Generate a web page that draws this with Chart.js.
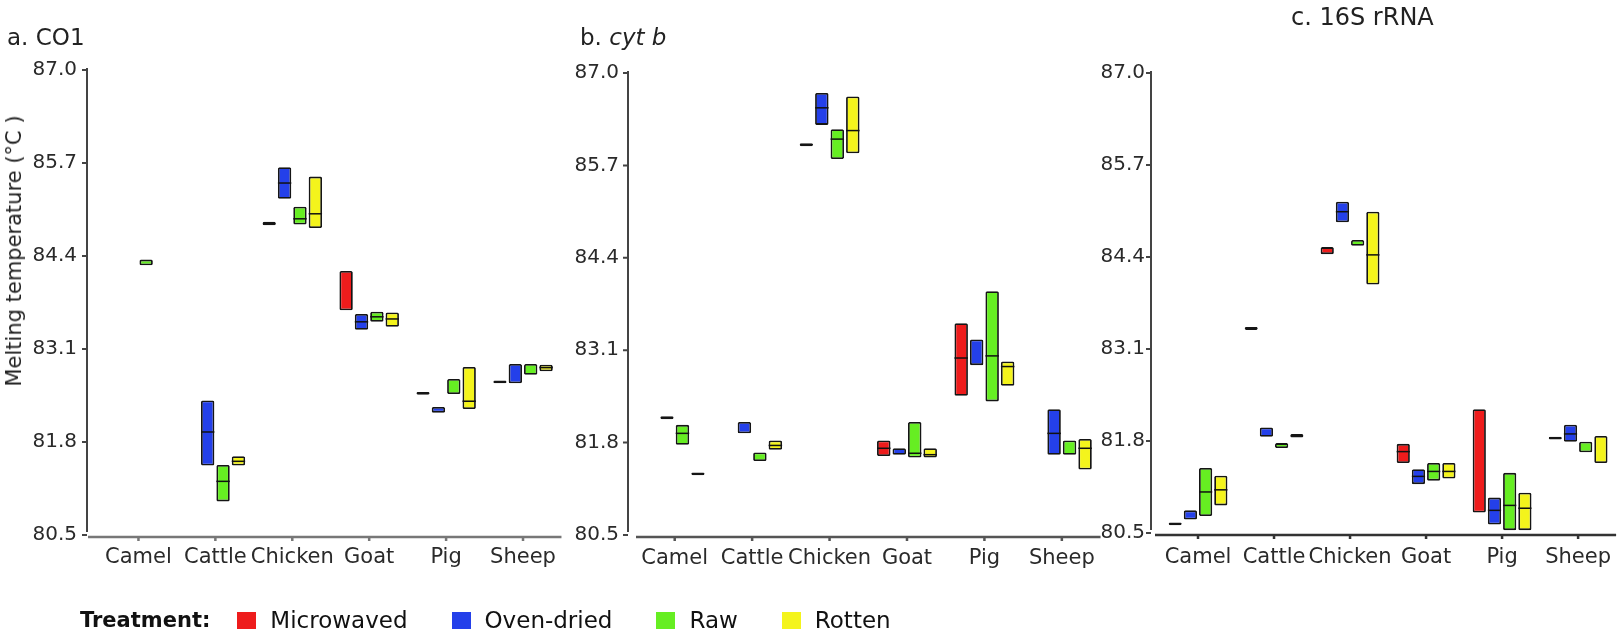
<!DOCTYPE html>
<html>
<head>
<meta charset="utf-8">
<script src="https://cdn.jsdelivr.net/npm/chart.js@4.4.1/dist/chart.umd.min.js"></script>
<style>
  body { margin: 0; background: #fff; }
  #wrap { position: relative; width: 1623px; height: 638px; overflow: hidden; font-family: 'DejaVu Sans', sans-serif; color: #222; }
  canvas { position: absolute; top: 0; }
  .title { position: absolute; font-size: 23px; line-height: 23px; white-space: nowrap; }
  #ylab { position: absolute; left: 14px; top: 251px; font-size: 21px; white-space: nowrap; transform: translate(-50%, -50%) rotate(-90deg); }
  #legend { position: absolute; left: 80px; top: 607px; height: 26px; display: flex; align-items: center; font-size: 23px; color: #111; }
  #legend .head { font-weight: bold; font-size: 21px; margin-right: 27px; }
  #legend .sw { width: 19px; height: 17px; margin-right: 14px; }
  #legend .item { display: flex; align-items: center; margin-right: 44px; }
</style>
</head>
<body>
<div id="wrap">
  <canvas id="co1" width="566" height="638" style="left:0px"></canvas>
  <canvas id="cytb" width="540" height="638" style="left:566px"></canvas>
  <canvas id="rrna" width="533" height="638" style="left:1090px"></canvas>
  <div class="title" style="left:7px; top:26px">a. CO1</div>
  <div class="title" style="left:580px; top:26px">b. <i>cyt b</i></div>
  <div class="title" style="left:1291px; top:6px; font-size:24px">c. 16S rRNA</div>
  <div id="ylab">Melting temperature (°C )</div>
  <div id="legend"><span class="head">Treatment:</span></div>
</div>
<script>
const categories = ["Camel", "Cattle", "Chicken", "Goat", "Pig", "Sheep"];
const treatments = ["Microwaved", "Oven-dried", "Raw", "Rotten"];
const colors = ["#ee1c1c", "#2440ea", "#66ee22", "#f4f41c"];
const yTicks = [80.5, 81.8, 83.1, 84.4, 85.7, 87.0];

// a. CO1 : [low, high] per species, plus median lines
const co1Microwaved = [null, null, [84.83, 84.88], [83.64, 84.19], [82.46, 82.50], [82.62, 82.66]];
const co1MicrowavedMed = [null, null, null, null, null, null];
const co1OvenDried = [null, [81.47, 82.38], [85.20, 85.64], [83.37, 83.59], [82.21, 82.29], [82.62, 82.89]];
const co1OvenDriedMed = [null, 81.94, 85.42, 83.48, null, null];
const co1Raw = [[84.27, 84.35], [80.97, 81.48], [84.84, 85.09], [83.48, 83.62], [82.47, 82.68], [82.74, 82.89]];
const co1RawMed = [null, 81.25, 84.92, 83.55, null, null];
const co1Rotten = [null, [81.47, 81.60], [84.79, 85.51], [83.41, 83.61], [82.26, 82.85], [82.79, 82.88]];
const co1RottenMed = [null, 81.53, 84.99, 83.52, 82.37, 82.84];

// b. cyt b
const cytbMicrowaved = [null, null, [85.97, 86.01], [81.61, 81.83], [82.46, 83.48], null];
const cytbMicrowavedMed = [null, null, null, 81.72, 82.99, null];
const cytbOvenDried = [[82.13, 82.17], [81.93, 82.09], [86.27, 86.72], [81.63, 81.72], [82.89, 83.25], [81.63, 82.27]];
const cytbOvenDriedMed = [null, null, 86.51, null, null, 81.93];
const cytbRaw = [[81.77, 82.05], [81.54, 81.66], [85.79, 86.21], [81.59, 82.09], [82.38, 83.93], [81.63, 81.83]];
const cytbRawMed = [81.93, null, 86.07, 81.65, 83.02, null];
const cytbRotten = [[81.34, 81.38], [81.70, 81.83], [85.87, 86.67], [81.59, 81.72], [82.60, 82.94], [81.42, 81.85]];
const cytbRottenMed = [null, 81.76, 86.19, 81.63, 82.87, 81.72];

// c. 16S rRNA
const rrnaMicrowaved = [[80.61, 80.65], [83.37, 83.41], [84.44, 84.54], [81.49, 81.76], [80.79, 82.25], [81.82, 81.86]];
const rrnaMicrowavedMed = [null, null, null, 81.65, null, null];
const rrnaOvenDried = [[80.69, 80.82], [81.86, 81.99], [84.89, 85.18], [81.19, 81.40], [80.62, 81.00], [81.79, 82.03]];
const rrnaOvenDriedMed = [null, null, 85.04, 81.30, 80.82, 81.90];
const rrnaRaw = [[80.74, 81.42], [81.70, 81.77], [84.56, 84.64], [81.24, 81.49], [80.54, 81.35], [81.64, 81.79]];
const rrnaRawMed = [81.08, null, null, 81.37, 80.89, null];
const rrnaRotten = [[80.89, 81.31], [81.85, 81.90], [84.01, 85.04], [81.27, 81.49], [80.54, 81.07], [81.49, 81.87]];
const rrnaRottenMed = [81.11, null, 84.43, 81.37, 80.85, null];

Chart.defaults.font.family = "'DejaVu Sans', sans-serif";
Chart.defaults.color = "#2a2a2a";

// median line across each box
const medianLines = {
  id: "medianLines",
  afterDatasetsDraw(chart) {
    const ctx = chart.ctx;
    const y = chart.scales.y;
    ctx.save();
    ctx.strokeStyle = "#111";
    ctx.lineWidth = 1.5;
    chart.data.datasets.forEach((ds, i) => {
      const meta = chart.getDatasetMeta(i);
      ds.medians.forEach((m, j) => {
        if (m == null) return;
        const bar = meta.data[j];
        const py = y.getPixelForValue(m);
        ctx.beginPath();
        ctx.moveTo(bar.x - bar.width / 2, py);
        ctx.lineTo(bar.x + bar.width / 2, py);
        ctx.stroke();
      });
    });
    ctx.restore();
  }
};

// axis lines sit a little left of the plot area, like the printed figure
const axisLines = {
  id: "axisLines",
  beforeDatasetsDraw(chart, args, opts) {
    const { ctx, chartArea: a, scales: { x, y } } = chart;
    ctx.save();
    ctx.lineCap = "butt";
    const ax = a.left - opts.gapY;
    ctx.strokeStyle = "#444";
    ctx.lineWidth = 2;
    ctx.beginPath();
    ctx.moveTo(ax, y.getPixelForValue(yTicks[yTicks.length - 1]) - 2);
    ctx.lineTo(ax, y.getPixelForValue(yTicks[0]) - 3);
    yTicks.forEach(v => {
      const py = y.getPixelForValue(v);
      ctx.moveTo(ax - opts.tickY, py);
      ctx.lineTo(ax, py);
    });
    ctx.stroke();

    const by = a.bottom + opts.dropX;
    ctx.strokeStyle = opts.xColor;
    ctx.lineWidth = 2.5;
    ctx.beginPath();
    ctx.moveTo(a.left - opts.gapX, by);
    ctx.lineTo(a.right, by);
    x.ticks.forEach((t, i) => {
      const px = x.getPixelForTick(i);
      ctx.moveTo(px, by);
      ctx.lineTo(px, by + 4);
    });
    ctx.stroke();
    ctx.restore();
  }
};

function makePanel(id, ranges, medians, lay) {
  new Chart(document.getElementById(id), {
    type: "bar",
    data: {
      labels: categories,
      datasets: treatments.map((t, k) => ({
        label: t,
        data: ranges[k],
        medians: medians[k],
        backgroundColor: colors[k],
        borderColor: "#151515",
        borderWidth: 1.8,
        borderSkipped: false,
        borderRadius: 1.5,
        categoryPercentage: 0.8,
        barPercentage: 0.87
      }))
    },
    options: {
      responsive: false,
      animation: false,
      devicePixelRatio: 1,
      layout: { autoPadding: false, padding: { top: lay.top, left: 0, right: lay.right, bottom: lay.bottom } },
      plugins: {
        legend: { display: false },
        tooltip: { enabled: false },
        axisLines: { gapY: lay.gapY, gapX: lay.gapX, tickY: 5, dropX: 2, xColor: lay.xColor }
      },
      scales: {
        x: {
          grid: { display: false, drawTicks: false },
          border: { display: false },
          ticks: { font: { size: 21 }, padding: lay.xPad, maxRotation: 0, autoSkip: false },
          afterFit(s) { s.height = 40; }
        },
        y: {
          min: 80.5,
          max: 87.0,
          grid: { display: false, drawTicks: false },
          border: { display: false },
          afterBuildTicks(s) { s.ticks = yTicks.map(v => ({ value: v })); },
          ticks: { font: { size: 20 }, padding: lay.yPad, callback: v => v.toFixed(1) },
          afterFit(s) { s.width = lay.yWidth; }
        }
      }
    },
    plugins: [axisLines, medianLines]
  });
}

makePanel("co1",
  [co1Microwaved, co1OvenDried, co1Raw, co1Rotten],
  [co1MicrowavedMed, co1OvenDriedMed, co1RawMed, co1RottenMed],
  { top: 70, bottom: 63, right: 1, yWidth: 100, yPad: 23, gapY: 13, gapX: 12, xPad: 10, xColor: "#777" });

makePanel("cytb",
  [cytbMicrowaved, cytbOvenDried, cytbRaw, cytbRotten],
  [cytbMicrowavedMed, cytbOvenDriedMed, cytbRawMed, cytbRottenMed],
  { top: 73, bottom: 63, right: 3, yWidth: 70, yPad: 17, gapY: 8, gapX: 0, xPad: 11, xColor: "#555" });

makePanel("rrna",
  [rrnaMicrowaved, rrnaOvenDried, rrnaRaw, rrnaRotten],
  [rrnaMicrowavedMed, rrnaOvenDriedMed, rrnaRawMed, rrnaRottenMed],
  { top: 73, bottom: 65, right: 0, yWidth: 70, yPad: 15, gapY: 9, gapX: 5, xPad: 12, xColor: "#333" });

// legend row built from the treatment list
const legend = document.getElementById("legend");
treatments.forEach((t, k) => {
  const item = document.createElement("span");
  item.className = "item";
  item.innerHTML = `<span class="sw" style="background:${colors[k]}"></span>${t}`;
  legend.appendChild(item);
});
</script>
</body>
</html>
